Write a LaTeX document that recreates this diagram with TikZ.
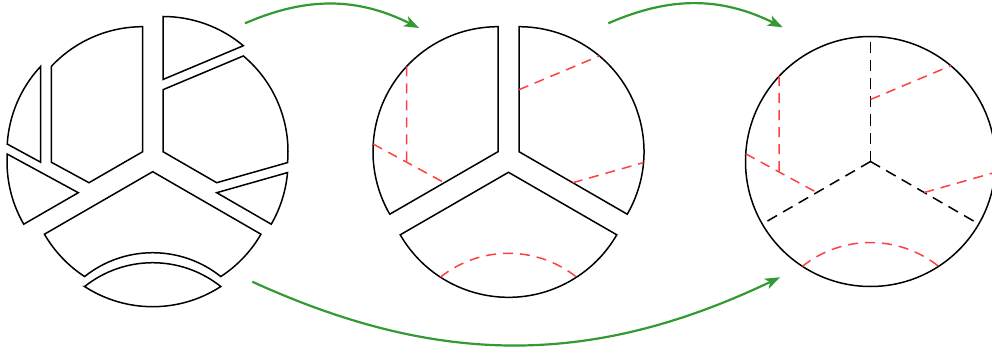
\documentclass[tikz,border=0pt]{standalone}
\usetikzlibrary{arrows.meta}
\definecolor{cutred}{RGB}{255,64,64}
\definecolor{flowgreen}{RGB}{51,153,51}
\begin{document}
\begin{tikzpicture}[x=1pt, y=1pt,
  piece/.style={draw=black, line width=1.5pt},
  cut/.style  ={draw=cutred, line width=1.5pt, dash pattern=on 10pt off 7pt},
  seam/.style ={draw=black, line width=1.5pt, dash pattern=on 11pt off 7pt},
  arr/.style  ={-{Stealth[length=15pt,width=11pt,inset=4pt]}, draw=flowgreen, line width=2.2pt}]
\useasboundingbox (0,0) rectangle (992,354);

%% left: every piece pulled apart
\draw[piece, shift={(132,202.3)}]   (137:125) -- (-91.42,-10.5) -- (176.5:125)
      arc[start angle=176.5, end angle=137, radius=125] -- cycle;
\draw[piece, shift={(142.7,202.3)}] (0,0) -- (90:125)
      arc[start angle=90, end angle=137, radius=125] -- (-91.42,-10.5) -- (210:62) -- cycle;
\draw[piece, shift={(132,192.3)}]   (176.5:125) -- (210:62) -- (210:125)
      arc[start angle=210, end angle=176.5, radius=125] -- cycle;
\draw[piece, shift={(163,212.5)}]   (0,62) -- (50:125)
      arc[start angle=50, end angle=90, radius=125] -- cycle;
\draw[piece, shift={(163,202.3)}]   (0,0) -- (0,62) -- (50:125)
      arc[start angle=50, end angle=-5, radius=125] -- (330:62) -- cycle;
\draw[piece, shift={(163,192.3)}]   (330:62) -- (-5:125)
      arc[start angle=-5, end angle=-30, radius=125] -- cycle;
\draw[piece, shift={(152.7,182.3)}] (0,0) -- (210:125)
      arc[start angle=210, end angle=237, radius=125]
      arc[start angle=128.57, end angle=51.43, radius=109.2]
      arc[start angle=303, end angle=330, radius=125] -- cycle;
\draw[piece, shift={(152.7,172.3)}] (237:125)
      arc[start angle=128.57, end angle=51.43, radius=109.2]
      arc[start angle=303, end angle=237, radius=125] -- cycle;

%% middle: three sectors, the cuts still dashed
\begin{scope}[shift={(498,202.3)}]
  \draw[piece] (0,0) -- (90:125) arc[start angle=90, end angle=210, radius=125] -- cycle;
  \draw[cut] (137:125) -- (-91.42,-10.5);
  \draw[cut] (176.5:125) -- (210:62);
\end{scope}
\begin{scope}[shift={(519,202.3)}]
  \draw[piece] (0,0) -- (330:125) arc[start angle=-30, end angle=90, radius=125] -- cycle;
  \draw[cut] (0,62) -- (50:125);
  \draw[cut] (330:62) -- (-5:125);
\end{scope}
\begin{scope}[shift={(508.5,181.7)}]
  \draw[piece] (0,0) -- (210:125) arc[start angle=210, end angle=330, radius=125] -- cycle;
  \draw[cut] (237:125) arc[start angle=128.57, end angle=51.43, radius=109.2];
\end{scope}

%% right: whole disc
\begin{scope}[shift={(870.5,192.5)}]
  \draw[piece] (0,0) circle[radius=125];
  \foreach \a in {90,210,330}
    \draw[seam] (0,0) -- (\a:125);
  \draw[cut] (137:125) -- (-91.42,-10.5);
  \draw[cut] (176.5:125) -- (210:62);
  \draw[cut] (0,62) -- (50:125);
  \draw[cut] (330:62) -- (-5:125);
  \draw[cut] (237:125) arc[start angle=128.57, end angle=51.43, radius=109.2];
\end{scope}

\coordinate (oneOut)   at (245,330.7);
\coordinate (twoIn)    at (419,326);
\coordinate (twoOut)   at (608.3,330.7);
\coordinate (threeIn)  at (782.7,326.7);
\coordinate (oneLow)   at (252.3,72.3);
\coordinate (threeLow) at (780,76.7);

\draw[arr] (oneOut) to[bend left=25] (twoIn);
\draw[arr] (twoOut) to[bend left=25] (threeIn);
\draw[arr] (oneLow) to[bend right=25] (threeLow);
\end{tikzpicture}
\end{document}
